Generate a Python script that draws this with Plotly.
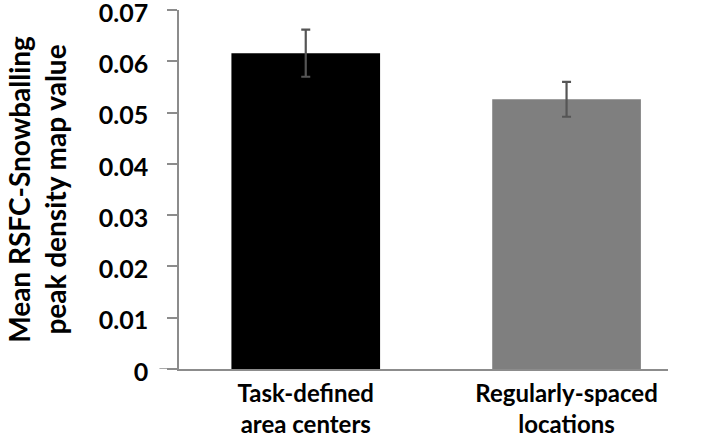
import plotly.graph_objects as go

categories = ["Task-defined<br>area centers", "Regularly-spaced<br>locations"]
values = [0.0616, 0.0526]
errors = [0.0046, 0.0034]
colors = ["#000000", "#7f7f7f"]
y_ticks = [0, 0.01, 0.02, 0.03, 0.04, 0.05, 0.06, 0.07]
y_tick_labels = ["0", "0.01", "0.02", "0.03", "0.04", "0.05", "0.06", "0.07"]

FONT = "Lato"

fig = go.Figure()
fig.add_trace(go.Bar(
    x=[0, 1], y=values, width=0.57,
    marker=dict(color=colors, line=dict(width=0)),
    error_y=dict(type="data", array=errors, visible=True, color="#555555",
                 thickness=2.2, width=4.5),
))

fig.update_layout(
    width=719, height=448,
    margin=dict(l=179, r=51, t=10, b=79, autoexpand=False),
    plot_bgcolor="white", paper_bgcolor="white",
    showlegend=False,
    font=dict(family=FONT, color="black"),
    xaxis=dict(
        range=[-0.486, 1.389], tickmode="array", tickvals=[0, 1], ticktext=categories,
        showline=True, linecolor="#8c8c8c", linewidth=1.5, ticks="", showgrid=False,
        zeroline=False, automargin=False, ticklabeloverflow="allow",
        tickfont=dict(family=FONT, size=24, color="black", weight="bold"),
        ticklabelstandoff=2,
    ),
    yaxis=dict(
        range=[0, 0.07002], tickmode="array", tickvals=y_ticks, ticktext=y_tick_labels,
        showline=True, linecolor="#8c8c8c", linewidth=1.5, ticks="outside",
        ticklen=10, tickcolor="#8c8c8c", tickwidth=1.5, showgrid=False, zeroline=False,
        automargin=False, ticklabeloverflow="allow",
        tickfont=dict(family=FONT, size=25, color="black", weight="bold"),
        ticklabelstandoff=14, ticklabelshift=3,
        title=dict(text="Mean RSFC-Snowballing<br>peak density map value",
                   font=dict(family=FONT, size=28, color="black", weight="bold"),
                   standoff=24),
    ),
)

fig.add_shape(type="line", xref="paper", yref="y", x0=-0.04, x1=0, y0=0, y1=0,
              line=dict(color="#8c8c8c", width=1.5))

fig.write_html("out.html", config={"displayModeBar": False},
               post_script="document.body.style.margin='0';")
